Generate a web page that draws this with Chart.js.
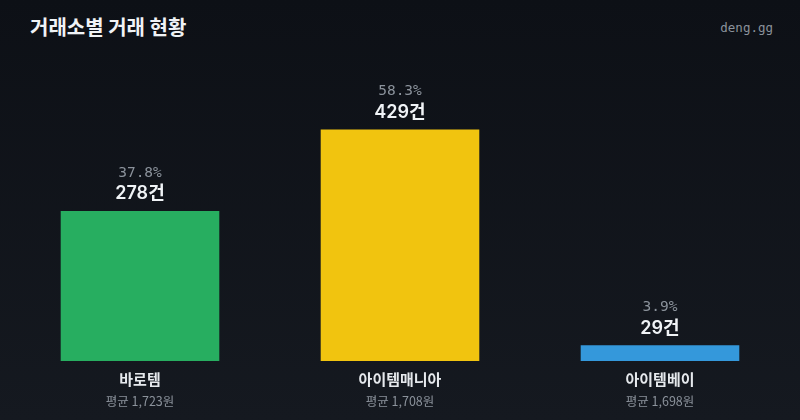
<!DOCTYPE html>
<html>
<head>
<meta charset="utf-8">
<script src="https://cdn.jsdelivr.net/npm/chart.js@4/dist/chart.umd.min.js"></script>
<style>
  html, body { margin: 0; padding: 0; }
  body {
    width: 800px;
    height: 420px;
    overflow: hidden;
    background: linear-gradient(180deg, #0d1016 0%, #151920 100%);
  }
  #wrap { position: relative; width: 800px; height: 420px; }
  #title {
    position: absolute; left: 30px; top: 12px;
    font-family: "Noto Sans CJK KR", "Noto Sans", sans-serif;
    font-weight: 700; font-size: 20px; line-height: 30px; color: #f0f3f6;
  }
  #brand {
    position: absolute; right: 27px; top: 20px;
    font-family: "DejaVu Sans Mono", monospace;
    font-size: 12.5px; color: #8b929b;
  }
  canvas { position: absolute; left: 0; top: 0; }
</style>
</head>
<body>
<div id="wrap">
  <div id="title">거래소별 거래 현황</div>
  <div id="brand">deng.gg</div>
  <canvas id="chart" width="800" height="420"></canvas>
</div>
<script>
// values
const exchanges = ['바로템', '아이템매니아', '아이템베이'];
const tradeCounts = [278, 429, 29];
const sharePct = ['37.8', '58.3', '3.9'];
const avgPrice = [1723, 1708, 1698];
const barColors = ['#27ae60', '#f1c40f', '#3498db'];

// labels above and below each bar
const barLabels = {
    id: 'barLabels',
    afterDatasetsDraw(chart) {
        const ctx = chart.ctx;
        const meta = chart.getDatasetMeta(0);
        const base = chart.scales.y.getPixelForValue(0);
        ctx.save();
        ctx.textAlign = 'center';
        ctx.textBaseline = 'middle';
        meta.data.forEach((bar, i) => {
            const x = bar.x;
            const top = bar.y;

            ctx.font = '14.5px "DejaVu Sans Mono", monospace';
            ctx.fillStyle = '#8b929b';
            ctx.fillText(sharePct[i] + '%', x, top - 38);

            ctx.font = '600 18px Inter, "Noto Sans CJK KR", sans-serif';
            ctx.fillStyle = '#f0f3f6';
            ctx.fillText(tradeCounts[i] + '건', x, top - 17);

            ctx.font = '700 15px "Noto Sans CJK KR", sans-serif';
            ctx.fillStyle = '#e6e9ed';
            ctx.fillText(exchanges[i], x, base + 18);

            ctx.font = '12.5px "Noto Sans CJK KR", sans-serif';
            ctx.fillStyle = '#8b929b';
            ctx.fillText('평균 ' + avgPrice[i].toLocaleString('en-US') + '원', x, base + 40);
        });
        ctx.restore();
    }
};

new Chart(document.getElementById('chart'), {
    type: 'bar',
    data: {
        labels: exchanges,
        datasets: [{
            data: tradeCounts,
            backgroundColor: barColors,
            borderWidth: 0,
            barPercentage: 0.61,
            categoryPercentage: 1.0,
        }],
    },
    options: {
        responsive: false,
        animation: false,
        layout: {
            padding: { left: 10, right: 10, top: 60, bottom: 59 },
        },
        plugins: {
            legend: { display: false },
            tooltip: { enabled: false },
        },
        scales: {
            x: { display: false },
            y: {
                display: false,
                beginAtZero: true,
                max: Math.max(...tradeCounts) * 1.3,
            },
        },
    },
    plugins: [barLabels],
});
</script>
</body>
</html>
